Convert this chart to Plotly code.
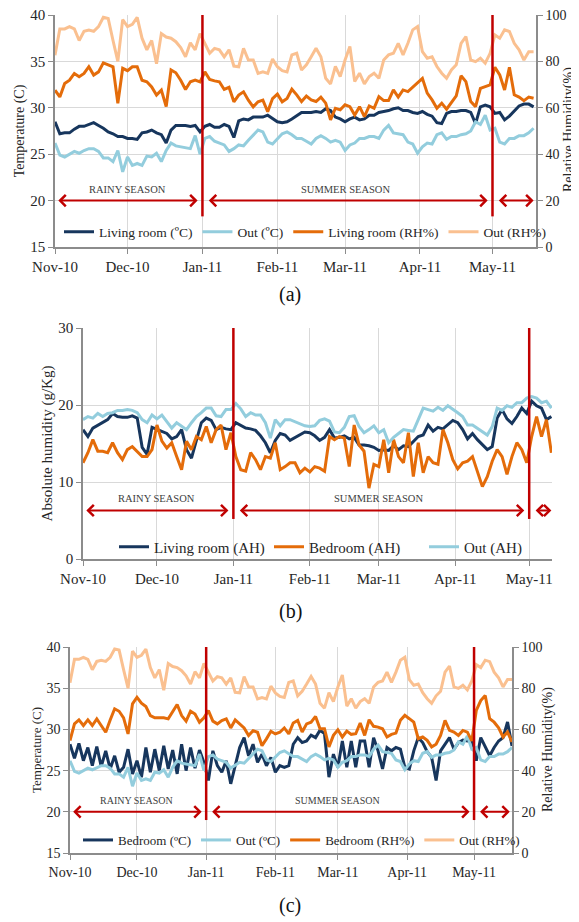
import pandas as pd
import plotly.graph_objects as go

# ---------------- data (2-day samples from 1 Nov 2010) ----------------
dates = pd.date_range("2010-11-01", periods=100, freq="2D")

# Panel (a): living room / outdoor temperature (degC) and RH (%)
living_t = [28.5, 27.2, 27.3, 27.3, 27.7, 28, 28, 28.2, 28.4, 28.1, 27.8, 27.4, 27.2, 26.9, 26.9, 26.7,
            26.7, 26.6, 27.3, 27.4, 27.6, 27.3, 27.1, 26.2, 27.6, 28.1, 28.1, 28.1, 28, 28.1, 27.4,
            28, 28.2, 27.9, 27.9, 28.2, 28, 26.8, 28.6, 28.8, 28.7, 29, 29, 29, 29.2, 28.8,
            28.5, 28.4, 28.5, 28.8, 29.2, 29.5, 29.5, 29.5, 29.6, 29.5, 29.9, 29.7, 29, 28.8,
            28.5, 28.8, 29, 28.7, 28.8, 29.2, 29.2, 29.5, 29.6, 29.7, 29.9, 30, 29.7, 29.7, 29.5,
            29.4, 29.6, 29.3, 29.1, 28.4, 28.3, 29.4, 29.6, 29.6, 29.7, 29.7, 29.5, 28.3, 30.1,
            30.3, 30.1, 29.4, 29.5, 28.7, 29.1, 29.7, 30.2, 30.4, 30.4, 30.1]
out_t = [26.2, 24.9, 24.7, 25, 25.3, 25.1, 25.4, 25.6, 25.6, 25.3, 24.6, 24.6, 24.2, 25.4, 23.1, 24.7,
         23.8, 24, 23.8, 24.8, 24.7, 25.1, 24.2, 25.4, 26.2, 25.9, 25.8, 25.7, 25.6, 27, 25,
         26.7, 26.9, 26.4, 26.2, 26, 25.3, 25.6, 26, 25.9, 26.5, 27.1, 27.6, 27.4, 26.3, 26.1,
         26.6, 27.2, 27.4, 27.1, 26.7, 26.7, 26.4, 26.1, 26.7, 27, 26.7, 26.3, 26.5, 26.3,
         25.4, 26, 26.2, 26.7, 26.7, 26.9, 26.9, 26.7, 27.6, 28.1, 27.3, 27.2, 27.1, 26.3, 26.1,
         25.1, 25.8, 26.2, 26.1, 27.1, 27.3, 26.6, 26.9, 26.9, 27.1, 27.2, 27.5, 28.5, 28.2,
         29.2, 27.6, 27.8, 26.3, 26.1, 26.7, 26.7, 27, 27, 27.3, 27.8]
living_rh = [67.6, 64.7, 70.5, 71.9, 74.8, 73.4, 74.8, 77.7, 74.1, 75.5, 79.4, 78.4, 77.7, 61.9, 77, 76,
             77.7, 77.7, 71.9, 71.2, 69, 65.5, 67.6, 60.5, 76.3, 75.1, 71.9, 67.9, 71.2, 71.9, 71.2,
             75.5, 72.2, 71.6, 71.2, 67.9, 68.8, 62.6, 65.5, 66.9, 63.3, 60.4, 62.6, 63.3, 58.3, 64,
             65.9, 62.6, 64, 68, 65.6, 62.7, 65.1, 63.4, 62.7, 64.6, 62, 54.8, 59.8, 59.1,
             61.3, 60.5, 56.9, 60.5, 56.2, 60.8, 59.8, 64.8, 63.1, 63.1, 67.7, 64.6, 67.7, 67, 68.9,
             70.6, 72.7, 66.3, 63.4, 59.8, 62, 59.4, 62.3, 65.1, 73.8, 71.3, 62.7, 60.5, 68.4,
             69.2, 69.9, 77.5, 74.2, 67.7, 77.5, 65.6, 64.6, 63.1, 64.6, 64.1]
out_rh = [82.7, 94, 94, 95, 94, 89, 93, 93.5, 93, 95, 99, 98.5, 89, 80, 98, 95,
          96, 99, 90, 85, 89, 79, 92, 90.5, 90, 88.5, 86, 82, 88, 85, 92,
          88, 83.5, 85.6, 85, 82, 85, 78, 77.7, 85.6, 80.6, 80.6, 74.8, 75.5, 74.8, 81,
          77.7, 76, 75.5, 82.8, 83.5, 76.3, 78.5, 82, 85.7, 82, 72.7, 70.3, 77.8, 73.5,
          80.6, 86.4, 71.3, 74.9, 70.3, 73.5, 74.9, 72.7, 80.6, 82.8, 83.5, 87.8, 82.8, 87.8, 93.6,
          95, 84.2, 81.4, 82, 77.8, 74.9, 72.7, 76.3, 78.5, 87.8, 90.7, 80.6, 79.9, 81.4,
          79.2, 83.5, 91.4, 90, 93.6, 92.9, 87.8, 85, 80.6, 84.2, 84.2]

# Panel (b): absolute humidity (g/kg), until 10 May
living_ah = [16.8, 15.9, 17, 17.4, 17.7, 18.1, 18.9, 18.5, 18.4, 18.4, 18.6, 18.3, 14.5, 13.6, 17.1, 16.8,
             16.5, 16.3, 15.6, 15.9, 16.8, 14.2, 13.1, 15.5, 17.7, 18.3, 18, 16.8, 17.1, 16.9, 16.8,
             17.7, 17.3, 17, 16.9, 16.7, 16, 15.1, 13.8, 15.4, 16.3, 16.1, 15.4, 15.8, 16.2, 16.5,
             16.4, 16, 15.4, 15.8, 16.8, 15.7, 15.8, 16, 15.6, 15.8, 14.8, 14.8, 14.7, 14.5,
             14.1, 14.2, 14.1, 14.7, 14.2, 14.7, 14.6, 15.2, 15.9, 16.1, 17.4, 16.6, 17.1, 16.9, 17.4,
             18, 17.7, 16.8, 15.6, 16.3, 15.5, 14.8, 14.2, 14.6, 18.3, 19.4, 18.2, 17.6, 18.5,
             19.6, 18.9, 20.5, 19.9, 19.6, 18.1, 18.5]
bedroom_ah = [12.5, 13.8, 15.5, 14, 14, 13.8, 15.1, 13.8, 12.9, 14.2, 14.6, 14, 13.3, 13.3, 14.2, 17.4,
              15.3, 14.4, 15.1, 13.3, 11.6, 15.3, 14.2, 15.9, 15.5, 17.2, 15.1, 16.8, 17.4, 14.2, 16.4,
              13.3, 11.6, 11.4, 13.8, 12.9, 11.6, 13.3, 13.1, 15.1, 11.6, 12, 12.5, 12.5, 11.2, 11.8,
              11.3, 12, 11.8, 11.4, 15.9, 15.5, 15.9, 15.7, 12, 17.4, 14.8, 14, 9.2, 12.3,
              12, 15.5, 11.2, 15.5, 13.3, 12.5, 16.4, 10.7, 15.1, 11.2, 13.3, 12.5, 12.3, 16.8, 15.1,
              12.9, 11.7, 12.5, 12.7, 13.3, 11.2, 9.4, 10.7, 12.7, 14.2, 13.3, 11, 13.3, 15.1,
              14.2, 12.5, 15.9, 18.5, 15.9, 18.1, 13.8]
out_ah = [18.1, 18.5, 18.3, 18.9, 18.5, 18.9, 19, 19.3, 19.3, 19.4, 19.3, 19, 18.1, 17.7, 18.7, 18.2,
          18.7, 17.9, 17, 17.7, 17.2, 16.8, 17.7, 18.5, 19, 19.6, 19.6, 18.6, 18.5, 19.4, 19.4,
          20.2, 19.5, 18.5, 19, 18.7, 18.7, 17.7, 15.7, 18.1, 17.3, 18.1, 18.1, 17.8, 17.5, 17.3,
          17.2, 17.3, 18, 18.2, 17.9, 16.5, 16.4, 17.1, 18.5, 18.6, 17.2, 16.4, 16.8, 17.3,
          16.4, 16.8, 15.1, 15.8, 16.3, 16.8, 16.7, 16.6, 18.1, 19.6, 19.4, 19.2, 19.7, 19.3, 19.9,
          19.5, 19, 18.5, 17.4, 17.4, 17, 16.6, 16.1, 17.2, 19.6, 19.3, 19.9, 19.7, 20.3,
          20.3, 20.9, 21.1, 20.9, 20.3, 20.5, 19.6]

# Panel (c): bedroom temperature (degC) and RH (%)
bedroom_t = [28.2, 26.5, 28.3, 26.2, 27.8, 25.6, 27.9, 25.5, 27.4, 25.2, 26.8, 24.8, 25.4, 27.6, 24.6,
             26.2, 24.2, 27.8, 24.8, 27.6, 25, 28, 25.2, 27.5, 24.6, 28.2, 25, 27.8, 25.3, 27.5, 26,
             23.8, 27.4, 25.6, 24.8, 26.2, 23.4, 25.8, 27.8, 29, 26.8, 28.2, 26, 27, 25.6, 26.6,
             24.8, 25.6, 25.4, 25.6, 28.2, 29, 28.4, 28.6, 29.3, 29, 29.9, 29.5, 24.2, 27,
             25.4, 28.6, 25.4, 28.6, 25.4, 28.6, 28.6, 25.4, 29, 27.4, 25.2, 27.8, 27.4, 27.8, 27.6,
             25.4, 25.2, 27.4, 29, 28.4, 27.3, 26.6, 23.8, 27.4, 28.2, 29, 27.6, 28.4, 28.7,
             28.6, 28.8, 26.2, 29, 27.8, 26.8, 27.8, 28.6, 29, 30.9, 28]
bedroom_rh = [54.6, 62.7, 64.6, 61.9, 64.6, 61.9, 65.1, 61.9, 58.6, 64.6, 70, 68.8, 65.6, 57.8, 72.4, 75.6,
              72.7, 71.1, 66.7, 65.6, 65.6, 65.6, 65.1, 68.3, 72.1, 66.7, 64, 68.8, 67.5, 63.5, 65.6,
              69.1, 64, 62.7, 64.3, 65.1, 60.7, 64.6, 62.7, 60.7, 57, 59.4, 58.6, 52.1, 55.4, 59.1,
              57.8, 58.6, 60.7, 57.8, 63.1, 64.4, 58.7, 62.7, 63.5, 66.3, 60.3, 60.3, 51.5, 57.1,
              59.8, 56.3, 59.2, 57.6, 57.9, 63.1, 57.1, 64.7, 61.5, 61.1, 60.3, 56.3, 57.6, 58.2, 64.4,
              66.8, 65.2, 63.5, 55.5, 56.3, 54.7, 51.5, 52.8, 57.1, 64.4, 59.5, 58.7, 57.1, 59.5,
              58.7, 54.4, 69.2, 74, 76.5, 65.2, 63.5, 60.8, 56.3, 58.7, 53.9]

season_bounds = ["2011-01-01", "2011-05-01"]
season_labels = ["RAINY SEASON", "SUMMER SEASON"]
season_label_x = ["2010-12-01", "2011-03-01"]
arrow_spans = [("2010-11-01 18:00", "2010-12-30"), ("2011-01-03", "2011-04-29")]

# ---------------- style ----------------
NAVY = "#17365d"
LBLUE = "#93cddd"
ORANGE = "#e46c0a"
LORANGE = "#fac090"
RED = "#c00000"
GRID = "#d9d9d9"
AXIS = "#8c8c8c"
TXT = "#262626"
FONT = "Liberation Serif, DejaVu Serif, Times New Roman, serif"

# the page body adds an 8px margin; size the figure so it fills the window
OFF = 8
FW, FH = 579 - OFF, 922 - OFF


def fx(p):
    return (p - OFF) / FW


def fy(p):
    return 1 - (p - OFF) / FH


fig = go.Figure()
lw = 3

# panel (a)
fig.add_trace(go.Scatter(x=dates, y=living_t, name="Living room (ºC)", mode="lines",
                         line=dict(color=NAVY, width=lw), xaxis="x", yaxis="y", legend="legend"))
fig.add_trace(go.Scatter(x=dates, y=out_t, name="Out (ºC)", mode="lines",
                         line=dict(color=LBLUE, width=lw), xaxis="x", yaxis="y", legend="legend"))
fig.add_trace(go.Scatter(x=dates, y=living_rh, name="Living room (RH%)", mode="lines",
                         line=dict(color=ORANGE, width=lw), xaxis="x", yaxis="y2", legend="legend"))
fig.add_trace(go.Scatter(x=dates, y=out_rh, name="Out (RH%)", mode="lines",
                         line=dict(color=LORANGE, width=lw), xaxis="x", yaxis="y2", legend="legend"))

# panel (b)
nb = len(living_ah)
fig.add_trace(go.Scatter(x=dates[:nb], y=living_ah, name="Living room (AH)", mode="lines",
                         line=dict(color=NAVY, width=lw), xaxis="x2", yaxis="y3", legend="legend2"))
fig.add_trace(go.Scatter(x=dates[:nb], y=bedroom_ah, name="Bedroom (AH)", mode="lines",
                         line=dict(color=ORANGE, width=lw), xaxis="x2", yaxis="y3", legend="legend2"))
fig.add_trace(go.Scatter(x=dates[:nb], y=out_ah, name="Out (AH)", mode="lines",
                         line=dict(color=LBLUE, width=lw), xaxis="x2", yaxis="y3", legend="legend2"))

# panel (c)
fig.add_trace(go.Scatter(x=dates, y=bedroom_t, name="Bedroom (ºC)", mode="lines",
                         line=dict(color=NAVY, width=lw), xaxis="x3", yaxis="y4", legend="legend3"))
fig.add_trace(go.Scatter(x=dates, y=out_t, name="Out (ºC)", mode="lines",
                         line=dict(color=LBLUE, width=lw), xaxis="x3", yaxis="y4", legend="legend3"))
fig.add_trace(go.Scatter(x=dates, y=bedroom_rh, name="Bedroom (RH%)", mode="lines",
                         line=dict(color=ORANGE, width=lw), xaxis="x3", yaxis="y5", legend="legend3"))
fig.add_trace(go.Scatter(x=dates, y=out_rh, name="Out (RH%)", mode="lines",
                         line=dict(color=LORANGE, width=lw), xaxis="x3", yaxis="y5", legend="legend3"))


def xax(dom, rng, anchor, size):
    return dict(type="date", domain=dom, range=rng, anchor=anchor, tickformat="%b-%y",
                dtick="M1", tick0="2010-11-01", ticks="outside", ticklen=5, tickcolor=AXIS,
                showline=True, linecolor=AXIS, linewidth=1.5, showgrid=True, gridcolor=GRID,
                gridwidth=1, tickfont=dict(family=FONT, size=size, color=TXT), automargin=False,
                zeroline=False, ticklabeloverflow="allow")


def yax(dom, rng, dtick, anchor, size, title, tsize, side="left", overlay=None, grid=True):
    d = dict(domain=dom, range=rng, tickmode="array",
             tickvals=list(range(rng[0], rng[1] + 1, dtick)), anchor=anchor, side=side,
             ticks="outside", ticklen=5, tickcolor=AXIS, showline=True, linecolor=AXIS,
             linewidth=1.5, showgrid=grid, gridcolor=GRID, gridwidth=1, zeroline=False,
             tickfont=dict(family=FONT, size=size, color=TXT), automargin=False,
             ticklabeloverflow="allow")
    if title:
        d["title"] = dict(text=title, font=dict(family=FONT, size=tsize, color=TXT), standoff=2)
    if overlay:
        d["overlaying"] = overlay
    return d


xa_dom = [fx(55), fx(536)]
ya_dom = [fy(247), fy(15)]
xb_dom = [fx(83), fx(552)]
yb_dom = [fy(559), fy(328)]
xc_dom = [fx(70), fx(512)]
yc_dom = [fy(853), fy(647)]

leg_common = dict(orientation="h", xanchor="left", yanchor="middle", itemwidth=30,
                  bgcolor="rgba(255,255,255,0)", tracegroupgap=0)

fig.update_layout(
    width=FW, height=FH, margin=dict(l=0, r=0, t=0, b=0),
    paper_bgcolor="white", plot_bgcolor="white",
    xaxis=xax(xa_dom, ["2010-11-01", "2011-05-19"], "y", 15),
    yaxis=yax(ya_dom, [15, 40], 5, "x", 15, "Temperature (C)", 14),
    yaxis2=yax(ya_dom, [0, 100], 20, "x", 14, None, 14, side="right", overlay="y", grid=False),
    xaxis2=xax(xb_dom, ["2010-11-01", "2011-05-10 06:00"], "y3", 15),
    yaxis3=yax(yb_dom, [0, 30], 10, "x2", 15, "Absolute humidity (g/Kg)", 15),
    xaxis3=xax(xc_dom, ["2010-11-01", "2011-05-18"], "y4", 14),
    yaxis4=yax(yc_dom, [15, 40], 5, "x3", 14, "Temperature (C)", 13),
    yaxis5=yax(yc_dom, [0, 100], 20, "x3", 14, None, 14, side="right", overlay="y4", grid=False),
    legend=dict(leg_common, x=fx(59), y=fy(232),
                font=dict(family=FONT, size=13.5, color=TXT)),
    legend2=dict(leg_common, x=fx(114), y=fy(547),
                 font=dict(family=FONT, size=15, color=TXT), entrywidth=110,
                 entrywidthmode="pixels"),
    legend3=dict(leg_common, x=fx(78), y=fy(840),
                 font=dict(family=FONT, size=13, color=TXT)),
    showlegend=True,
)

# red season boundaries, arrows and labels for each panel
panels = [
    dict(x="x", y="y", top=40, bottom=18.3, arrow_y=20, end="2011-05-18", fsize=10.5),
    dict(x="x2", y="y3", top=30, bottom=5.2, arrow_y=6.3, end="2011-05-10", fsize=10.5),
    dict(x="x3", y="y4", top=40, bottom=19.0, arrow_y=20, end="2011-05-17", fsize=10),
]
shapes = []
annotations = []
for p in panels:
    for b in season_bounds:
        shapes.append(dict(type="line", xref=p["x"], yref=p["y"], x0=b, x1=b,
                           y0=p["bottom"], y1=p["top"], line=dict(color=RED, width=2.5),
                           layer="above"))
    spans = arrow_spans + [("2011-05-03", p["end"])]
    for a0, a1 in spans:
        annotations.append(dict(xref=p["x"], yref=p["y"], axref=p["x"], ayref=p["y"],
                                x=a1, y=p["arrow_y"], ax=a0, ay=p["arrow_y"], text="",
                                showarrow=True, arrowhead=4, startarrowhead=4,
                                arrowside="end+start", arrowsize=1.1, startarrowsize=1.1,
                                arrowwidth=2, arrowcolor=RED, standoff=0, startstandoff=0))
    for lbl, lx in zip(season_labels, season_label_x):
        annotations.append(dict(xref=p["x"], yref=p["y"], x=lx, y=p["arrow_y"], text=lbl,
                                showarrow=False, yanchor="bottom", yshift=4,
                                font=dict(family=FONT, size=p["fsize"], color="#404040")))

# right-hand axis titles (rotated text beside the RH axes)
for xpx, ypx, size in [(569, 130, 14), (548, 750, 14)]:
    annotations.append(dict(xref="paper", yref="paper", x=fx(xpx), y=fy(ypx),
                            text="Relative Humidity(%)", textangle=-90, showarrow=False,
                            xanchor="center", yanchor="middle",
                            font=dict(family=FONT, size=size, color=TXT)))

for lbl, ypx in [("(a)", 295), ("(b)", 611), ("(c)", 905)]:
    annotations.append(dict(xref="paper", yref="paper", x=fx(290), y=fy(ypx), text=lbl,
                            showarrow=False, xanchor="center", yanchor="middle",
                            font=dict(family=FONT, size=20, color="#111111")))

fig.update_layout(shapes=shapes, annotations=annotations)
fig.write_html("out.html")
